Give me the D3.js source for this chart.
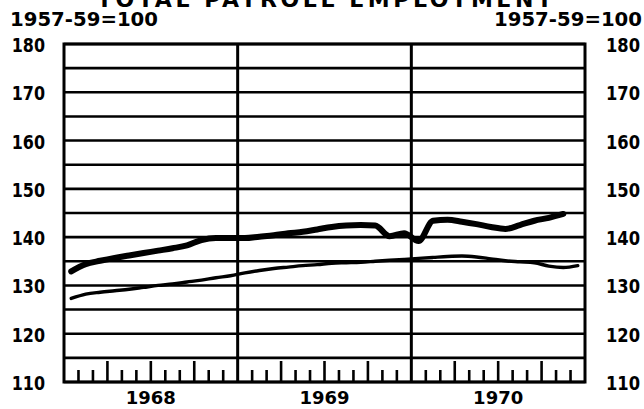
<!DOCTYPE html>
<html>
<head>
<meta charset="utf-8">
<script src="https://cdn.jsdelivr.net/npm/d3@7"></script>
<style>
  html, body { margin: 0; padding: 0; background: #fff; }
  svg { display: block; }
  text { font-family: "DejaVu Sans", sans-serif; font-weight: bold; fill: #000; }
</style>
</head>
<body>
<script>
// ---- data ----
const title = "TOTAL PAYROLL EMPLOYMENT";
const baseLabel = "1957-59=100";
const years = ["1968", "1969", "1970"];
const yTickValues = [110, 120, 130, 140, 150, 160, 170, 180];
const yGridValues = [110, 115, 120, 125, 130, 135, 140, 145, 150, 155, 160, 165, 170, 175, 180];
// monthly index values, Jan 1968 .. Nov 1970 (thick line)
const thickSeries = [
  132.9, 134.4, 135.1, 135.7, 136.2, 136.7, 137.2, 137.7, 138.3, 139.4, 139.8, 139.8,
  139.8, 140.1, 140.4, 140.8, 141.1, 141.6, 142.1, 142.4, 142.5, 142.4, 140.2, 140.8,
  139.2, 143.4, 143.6, 143.2, 142.7, 142.1, 141.7, 142.5, 143.4, 144.0, 144.8
];
// monthly index values, Jan 1968 .. Dec 1970 (thin line)
const thinSeries = [
  127.3, 128.2, 128.6, 128.9, 129.2, 129.6, 130.0, 130.3, 130.7, 131.1, 131.6, 132.0,
  132.6, 133.1, 133.5, 133.8, 134.1, 134.3, 134.6, 134.7, 134.8, 135.0, 135.2, 135.4,
  135.6, 135.8, 136.0, 136.1, 135.9, 135.5, 135.1, 134.9, 134.7, 134.0, 133.7, 134.1
];

// ---- layout ----
const W = 644, H = 409;
const L = 64, R = 585, T = 44, B = 382;

const svg = d3.select("body").append("svg").attr("width", W).attr("height", H);

const x = d3.scaleLinear().domain([0, 36]).range([L, R]);
const y = d3.scaleLinear().domain([110, 180]).range([B, T]);

// grid lines
svg.append("g").selectAll("line").data(yGridValues).join("line")
  .attr("x1", L).attr("x2", R)
  .attr("y1", d => y(d)).attr("y2", d => y(d))
  .attr("stroke", "#000").attr("stroke-width", 2.6);

// year divider lines
svg.append("g").selectAll("line").data([12, 24]).join("line")
  .attr("x1", d => x(d)).attr("x2", d => x(d))
  .attr("y1", T).attr("y2", B)
  .attr("stroke", "#000").attr("stroke-width", 3);

// frame
svg.append("rect").attr("x", L).attr("y", T).attr("width", R - L).attr("height", B - T)
  .attr("fill", "none").attr("stroke", "#000").attr("stroke-width", 3);

// month ticks
const months = d3.range(1, 36).filter(m => m % 12 !== 0);
svg.append("g").selectAll("line").data(months).join("line")
  .attr("x1", d => x(d)).attr("x2", d => x(d))
  .attr("y1", B).attr("y2", d => d % 3 === 0 ? B - 21 : B - 12)
  .attr("stroke", "#000").attr("stroke-width", 2.6);

// series lines
const line = d3.line()
  .x((d, i) => x(i + 0.5))
  .y(d => y(d))
  .curve(d3.curveMonotoneX);

svg.append("path").datum(thinSeries).attr("d", line)
  .attr("fill", "none").attr("stroke", "#000").attr("stroke-width", 3.4)
  .attr("stroke-linecap", "round").attr("stroke-linejoin", "round");

svg.append("path").datum(thickSeries).attr("d", line)
  .attr("fill", "none").attr("stroke", "#000").attr("stroke-width", 6)
  .attr("stroke-linecap", "round").attr("stroke-linejoin", "round");

// y labels left and right (condensed via horizontal scale)
svg.append("g").selectAll("text").data(yTickValues).join("text")
  .attr("transform", d => `translate(45,${y(d) + 8}) scale(0.84,1)`)
  .attr("text-anchor", "end").attr("font-size", 19)
  .text(d => d);
svg.append("g").selectAll("text").data(yTickValues).join("text")
  .attr("transform", d => `translate(606,${y(d) + 8}) scale(0.86,1)`)
  .attr("text-anchor", "start").attr("font-size", 19)
  .text(d => d);

// year labels
svg.append("g").selectAll("text").data(years).join("text")
  .attr("transform", (d, i) => `translate(${x(i * 12 + 6)},404) scale(1,1)`)
  .attr("text-anchor", "middle").attr("font-size", 18)
  .text(d => d);

// base labels
svg.append("text").attr("x", 10).attr("y", 26).attr("font-size", 20)
  .attr("textLength", 148).attr("lengthAdjust", "spacingAndGlyphs").text(baseLabel);
svg.append("text").attr("x", 494).attr("y", 26).attr("font-size", 20)
  .attr("textLength", 148).attr("lengthAdjust", "spacingAndGlyphs").text(baseLabel);

// title (partly cut off at the top, as in the reference)
svg.append("text").attr("x", 97).attr("y", 7).attr("font-size", 22)
  .attr("textLength", 455).attr("lengthAdjust", "spacing").text(title);
</script>
</body>
</html>
